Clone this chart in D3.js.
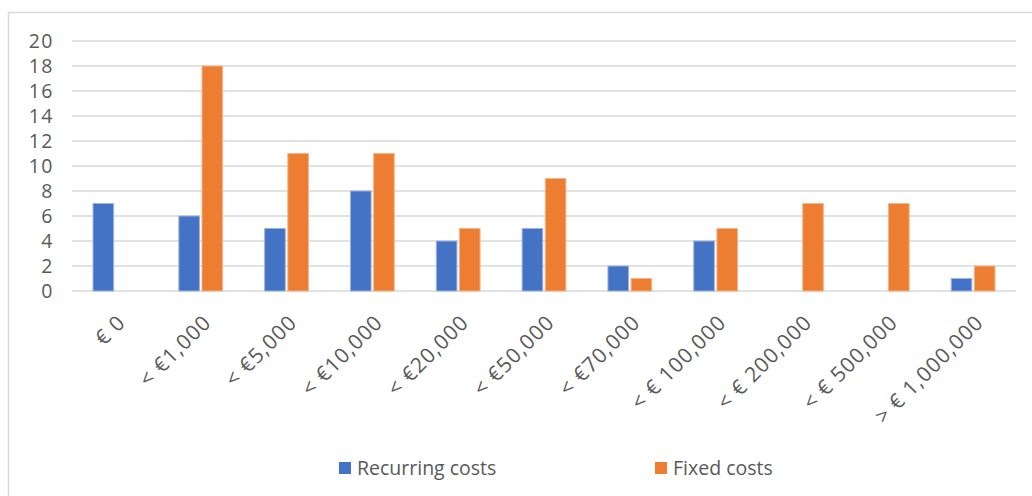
<!DOCTYPE html>
<html>
<head>
<meta charset="utf-8">
<script src="https://cdn.jsdelivr.net/npm/d3@7"></script>
<style>
  body { margin: 0; background: #fff; }
  svg text { font-family: "Open Sans", "Noto Sans", sans-serif; fill: #595959; }
</style>
</head>
<body>
<svg id="chart" width="1032" height="496"></svg>
<script>
const categories = ["€ 0", "< €1,000", "< €5,000", "< €10,000", "< €20,000", "< €50,000",
    "< €70,000", "< € 100,000", "< € 200,000", "< € 500,000", "> € 1,000,000"];
const recurring = [7, 6, 5, 8, 4, 5, 2, 4, 0, 0, 1];
const fixed = [0, 18, 11, 11, 5, 9, 1, 5, 7, 7, 2];
const seriesNames = ["Recurring costs", "Fixed costs"];
const colors = ["#4472C4", "#ED7D31"];
const yTicks = [0, 2, 4, 6, 8, 10, 12, 14, 16, 18, 20];

const width = 1032;
const height = 496;
const margin = {top: 41, right: 16, bottom: 205, left: 72};

const svg = d3.select("#chart");

// outer frame (only top and left show in the picture)
svg.append("path")
    .attr("d", "M8.5,500 V12.5 H1040")
    .attr("fill", "none")
    .attr("stroke", "#d9d9d9")
    .attr("stroke-width", 1.5);

const x = d3.scaleBand()
    .domain(categories)
    .range([margin.left, width - margin.right])
    .paddingInner(0.49)
    .paddingOuter(0.245);

const xInner = d3.scaleBand()
    .domain(seriesNames)
    .range([0, x.bandwidth()])
    .paddingInner(0.11);

const y = d3.scaleLinear()
    .domain([0, 20])
    .range([height - margin.bottom, margin.top]);

// gridlines
svg.append("g")
    .selectAll("line")
    .data(yTicks)
    .join("line")
    .attr("x1", margin.left)
    .attr("x2", width - margin.right)
    .attr("y1", d => y(d))
    .attr("y2", d => y(d))
    .attr("stroke", "#d9d9d9")
    .attr("stroke-width", 1.5);

// y axis labels
svg.append("g")
    .selectAll("text")
    .data(yTicks)
    .join("text")
    .attr("x", 54)
    .attr("y", d => y(d))
    .attr("dy", "0.36em")
    .attr("text-anchor", "end")
    .style("font-size", "19.5px")
    .style("letter-spacing", "1.5px")
    .text(d => d);

// bars
const rows = categories.map((c, i) => ({cat: c, vals: [recurring[i], fixed[i]]}));

const group = svg.append("g")
    .selectAll("g")
    .data(rows)
    .join("g")
    .attr("transform", d => `translate(${x(d.cat)},0)`);

group.selectAll("rect")
    .data(d => d.vals.map((v, j) => ({name: seriesNames[j], value: v, j})))
    .join("rect")
    .filter(d => d.value > 0)
    .attr("x", d => xInner(d.name))
    .attr("width", xInner.bandwidth())
    .attr("y", d => y(d.value))
    .attr("height", d => y(0) - y(d.value))
    .attr("fill", d => colors[d.j])
    .attr("stroke", d => d.j === 0 ? "#9db4e0" : "#f5b48a")
    .attr("stroke-width", 1);

// x labels, rotated
svg.append("g")
    .selectAll("text")
    .data(categories)
    .join("text")
    .attr("transform", d => `translate(${x(d) + x.bandwidth() / 2 + 1},${y(0) + 22}) rotate(-45)`)
    .attr("text-anchor", "end")
    .attr("dy", "0.72em")
    .style("font-size", "21px")
    .style("letter-spacing", "1px")
    .text(d => d);

// legend
const legendX = [339, 655];
const legend = svg.append("g")
    .selectAll("g")
    .data(seriesNames)
    .join("g")
    .attr("transform", (d, i) => `translate(${legendX[i]},468)`);

legend.append("rect")
    .attr("x", 0)
    .attr("y", -6)
    .attr("width", 12)
    .attr("height", 12)
    .attr("fill", (d, i) => colors[i]);

legend.append("text")
    .attr("x", 18)
    .attr("dy", "0.36em")
    .style("font-size", "19.5px")
    .text(d => d);
</script>
</body>
</html>
